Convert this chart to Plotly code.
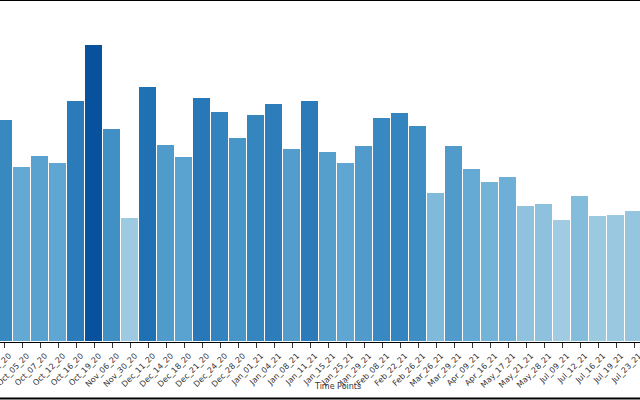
import plotly.graph_objects as go

categories = ["Oct_02_20", "Oct_05_20", "Oct_07_20", "Oct_12_20", "Oct_16_20", "Oct_19_20",
              "Nov_06_20", "Nov_30_20", "Dec_11_20", "Dec_14_20", "Dec_18_20", "Dec_21_20",
              "Dec_24_20", "Dec_28_20", "Jan_01_21", "Jan_04_21", "Jan_08_21", "Jan_11_21",
              "Jan_15_21", "Jan_25_21", "Jan_29_21", "Feb_08_21", "Feb_22_21", "Feb_26_21",
              "Mar_26_21", "Mar_29_21", "Apr_09_21", "Apr_16_21", "May_17_21", "May_21_21",
              "May_28_21", "Jul_09_21", "Jul_12_21", "Jul_16_21", "Jul_19_21", "Jul_23_21"]
values = [222, 175, 186, 179, 241, 297,
          213, 124, 255, 197, 185, 244,
          230, 204, 227, 238, 193, 241,
          190, 179, 196, 224, 229, 216,
          149, 196, 173, 160, 165, 136,
          138, 122, 146, 126, 127, 131]
x_title = "Time Points"

blues = [[0.0, "rgb(247,251,255)"], [0.125, "rgb(222,235,247)"], [0.25, "rgb(198,219,239)"],
         [0.375, "rgb(158,202,225)"], [0.5, "rgb(107,174,214)"], [0.625, "rgb(66,146,198)"],
         [0.75, "rgb(33,113,181)"], [0.875, "rgb(8,81,156)"], [1.0, "rgb(8,48,107)"]]

fig = go.Figure(go.Bar(
    x=categories, y=values,
    marker=dict(color=values, colorscale=blues, cmin=-6, cmax=340,
                line=dict(color="white", width=1)),
))

fig.update_layout(
    width=640, height=400,
    margin=dict(l=0, r=0, t=0, b=58, autoexpand=False),
    paper_bgcolor="white", plot_bgcolor="white",
    bargap=0, showlegend=False,
    font=dict(family="DejaVu Sans", size=8, color="#333"),
    xaxis=dict(range=[-0.222, 35.333], tickangle=-45, showline=True, linecolor="black",
               linewidth=1, ticks="outside", ticklen=5, tickcolor="#333", showgrid=False,
               automargin=False, ticklabelshift=5,
               tickfont=dict(size=8, color="#333")),
    yaxis=dict(range=[0, 342], visible=False, showgrid=False, automargin=False),
    annotations=[dict(text=x_title, xref="paper", yref="paper", x=337 / 640, y=-44.5 / 342,
                      showarrow=False, font=dict(size=8, color="#333"),
                      xanchor="center", yanchor="middle")],
    shapes=[
        dict(type="line", xref="paper", yref="paper", x0=0, x1=1, y0=1, y1=1,
             line=dict(color="black", width=2)),
        dict(type="line", xref="paper", yref="paper", x0=0, x1=1,
             y0=-56.5 / 342, y1=-56.5 / 342, line=dict(color="black", width=2)),
    ],
)

fig.write_html("out.html", config={"displayModeBar": False},
               post_script="document.body.style.margin='0';document.body.style.overflow='hidden';")
